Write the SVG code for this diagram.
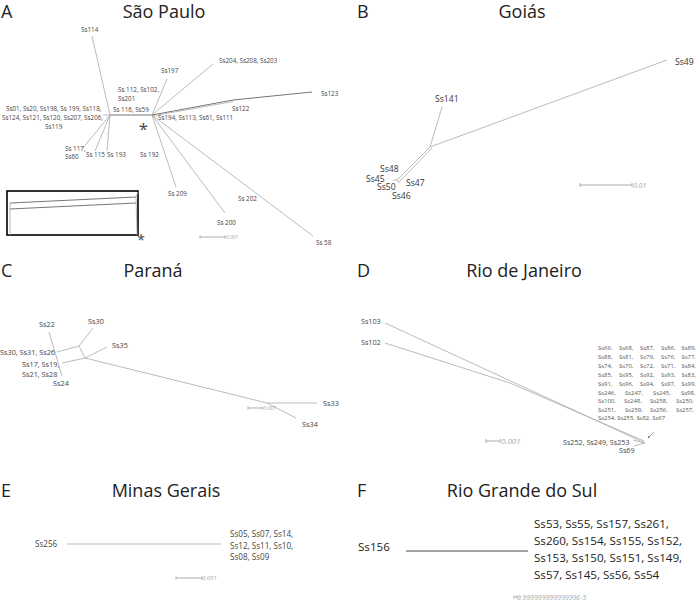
<svg xmlns="http://www.w3.org/2000/svg" width="696" height="604" viewBox="0 0 696 604">
<style>
text{font-family:"Open Sans","Liberation Sans",sans-serif;fill:#444}
.ti{font-size:18px;fill:#222}
.a{font-size:6.3px}
.b{font-size:8.6px;fill:#333}
.c{font-size:7.3px}
.d{font-size:5.9px;fill:#555}
.d2{font-size:7.2px}
.e{font-size:8.1px}
.f{font-size:11.6px;fill:#222}
.sc{font-style:italic;fill:#aaa}
.ln{stroke:#aaa;stroke-width:0.8;fill:none}
.dk{stroke:#666;stroke-width:0.9;fill:none}
.bar{stroke:#999;stroke-width:0.8;fill:none}
</style>
<defs>
<marker id="ah" viewBox="0 0 6 6" refX="5" refY="3" markerWidth="4" markerHeight="4" orient="auto"><path d="M0,0 L6,3 L0,6 z" fill="#777"/></marker>
</defs>
<rect width="696" height="604" fill="#fff"/>

<!-- Titles -->
<g id="titles">
<text class="ti" x="1" y="18">A</text>
<text class="ti" x="164" y="18" text-anchor="middle">São Paulo</text>
<text class="ti" x="357" y="18">B</text>
<text class="ti" x="522" y="18" text-anchor="middle">Goiás</text>
<text class="ti" x="1" y="277">C</text>
<text class="ti" x="153" y="277" text-anchor="middle">Paraná</text>
<text class="ti" x="357" y="277">D</text>
<text class="ti" x="524" y="277" text-anchor="middle">Rio de Janeiro</text>
<text class="ti" x="1" y="497">E</text>
<text class="ti" x="166" y="497" text-anchor="middle">Minas Gerais</text>
<text class="ti" x="357" y="497">F</text>
<text class="ti" x="522" y="497" text-anchor="middle">Rio Grande do Sul</text>
</g>

<!-- Connectors -->
<g id="connectors">
<!-- A -->
<path class="ln" d="M92,36 L110,115"/>
<path class="dk" d="M110,115 L152,115"/>
<path class="ln" d="M110,115 L83,148 M110,115 L95,151 M110,115 L107,151 M110,115 L103,115"/>
<path class="ln" d="M152,115 L167,79 M152,115 L213,64"/>
<path class="dk" d="M152,115 L233,100 L312,92"/>
<path class="ln" d="M152,116 L233,101.5"/>
<path class="ln" d="M152,115 L176,187 M152,115 L225,213 M152,115 L313,236"/>
<rect x="7" y="191" width="131" height="44" fill="#fff" stroke="#000" stroke-width="1.6"/>
<path class="dk" d="M10,203 L136,197 M10,209 L136,203"/>
<path class="ln" d="M10,203 L10,235 M136,197 L138,192 M136,197 L137,235"/>
<!-- B -->
<path class="ln" d="M667,60 L430,147 L442,107"/>
<path class="ln" d="M430,147 L397,180 M432,148 L399,182"/>
<path class="ln" d="M397,180 L393,180 M397,180 L399,183"/>
<!-- C -->
<path class="ln" d="M49,332 L62,376"/>
<path class="ln" d="M57,352 L79,346 L85,358 L62,363"/>
<path class="ln" d="M79,346 L93,328 M85,358 L107,347"/>
<path class="ln" d="M85,358 L267,403 L317,403 M267,403 L296,418"/>
<!-- D -->
<path class="ln" d="M385,323 L645,443"/>
<path class="ln" d="M385,343 L510,383 L644,441"/>
<path class="ln" d="M633,440 L645,443 L634,446"/>
<path stroke="#777" stroke-width="0.7" fill="none" d="M654,432 L648,438" marker-end="url(#ah)"/>
<!-- E -->
<path class="ln" d="M67,544 L221,544"/>
<!-- F -->
<path stroke="#444" stroke-width="1" d="M406,551 L528,551"/>
</g>

<!-- Scale bars -->
<g id="scales">
<path class="bar" d="M200,237 L225,237 M200,235.5 V238.5 M225,235.5 V238.5"/>
<text class="sc" x="226" y="239" font-size="5">0.001</text>
<path class="bar" d="M580,185 L632,185 M580,183 V187 M632,183 V187"/>
<text class="sc" x="633" y="188" font-size="7">0.01</text>
<path class="bar" d="M248,408 L262,408 M248,406.5 V409.5 M262,406.5 V409.5"/>
<text class="sc" x="263" y="410" font-size="5.5">0.001</text>
<path class="bar" d="M486,441 L500,441 M486,439 V443 M500,439 V443"/>
<text class="sc" x="501" y="444" font-size="8">0.001</text>
<path class="bar" d="M176,578 L202,578 M176,576.5 V579.5 M202,576.5 V579.5"/>
<text class="sc" x="202" y="580" font-size="6">0.001</text>
<path class="bar" d="M514,597 L517,597 M514,595.5 V598.5 M517,595.5 V598.5"/>
<text class="sc" x="517" y="599.5" font-size="7">9.99999999999999E-5</text>
</g>

<!-- Panel A nodes -->
<g id="A-Ss114"><text class="a" x="81" y="32">Ss114</text></g>
<g id="A-Ss197"><text class="a" x="161" y="73">Ss197</text></g>
<g id="A-Ss204"><text class="a" x="219" y="63">Ss204, Ss208, Ss203</text></g>
<g id="A-Ss112"><text class="a" x="118" y="92">Ss 112, Ss102,</text><text class="a" x="118" y="101">Ss201</text></g>
<g id="A-Ss116"><text class="a" x="113" y="112">Ss 116, Ss59</text></g>
<g id="A-Ss01"><text class="a" x="6" y="111">Ss01, Ss20, Ss198, Ss 199, Ss118,</text><text class="a" x="2" y="120">Ss124, Ss121, Ss120, Ss207, Ss206,</text><text class="a" x="45" y="129">Ss119</text></g>
<g id="A-Ss194"><text class="a" x="158" y="120">Ss194, Ss113, Ss61, Ss111</text></g>
<g id="A-Ss122"><text class="a" x="232" y="111">Ss122</text></g>
<g id="A-Ss123"><text class="a" x="321" y="95.5" font-size="7.2">Ss123</text></g>
<g id="A-Ss117"><text class="a" x="65" y="151">Ss 117,</text><text class="a" x="65" y="159">Ss60</text></g>
<g id="A-Ss115"><text class="a" x="86" y="157">Ss 115</text></g>
<g id="A-Ss193"><text class="a" x="107" y="157">Ss 193</text></g>
<g id="A-Ss192"><text class="a" x="140" y="157">Ss 192</text></g>
<g id="A-Ss209"><text class="a" x="168" y="196">Ss 209</text></g>
<g id="A-Ss202"><text class="a" x="238" y="201">Ss 202</text></g>
<g id="A-Ss200"><text class="a" x="217" y="225">Ss 200</text></g>
<g id="A-Ss58"><text class="a" x="316" y="245">Ss 58</text></g>
<g id="A-star"><text x="143.5" y="135" font-size="17" text-anchor="middle" fill="#222">*</text></g>
<g id="A-star2"><text x="141" y="245" font-size="14" text-anchor="middle" fill="#222">*</text></g>

<!-- Panel B nodes -->
<g id="B-Ss49"><text class="b" x="675" y="65">Ss49</text></g>
<g id="B-Ss141"><text class="b" x="435" y="102">Ss141</text></g>
<g id="B-Ss48"><text class="b" x="380" y="172">Ss48</text></g>
<g id="B-Ss45"><text class="b" x="366" y="181.5">Ss45</text></g>
<g id="B-Ss50"><text class="b" x="377" y="190">Ss50</text></g>
<g id="B-Ss46"><text class="b" x="392" y="198.5">Ss46</text></g>
<g id="B-Ss47"><text class="b" x="406" y="186">Ss47</text></g>

<!-- Panel C nodes -->
<g id="C-Ss22"><text class="c" x="39" y="326.5">Ss22</text></g>
<g id="C-Ss30"><text class="c" x="88" y="323.5">Ss30</text></g>
<g id="C-Ss35"><text class="c" x="112" y="347.5">Ss35</text></g>
<g id="C-Ss30b"><text class="c" x="0" y="354.5">Ss30, Ss31, Ss26</text></g>
<g id="C-Ss17"><text class="c" x="22" y="366.5">Ss17, Ss19,</text><text class="c" x="22" y="376.5">Ss21, Ss28</text></g>
<g id="C-Ss24"><text class="c" x="53" y="385.5">Ss24</text></g>
<g id="C-Ss33"><text class="c" x="323" y="405.5">Ss33</text></g>
<g id="C-Ss34"><text class="c" x="302" y="426.5">Ss34</text></g>

<!-- Panel D nodes -->
<g id="D-Ss103"><text class="d2" x="361" y="323.5">Ss103</text></g>
<g id="D-Ss102"><text class="d2" x="361" y="344.5">Ss102</text></g>
<g id="D-cluster">
<text class="d" y="350"><tspan x="598">Ss66,</tspan><tspan x="619">Ss68,</tspan><tspan x="640">Ss87,</tspan><tspan x="661">Ss86,</tspan><tspan x="681.5">Ss89,</tspan></text>
<text class="d" y="359"><tspan x="598">Ss88,</tspan><tspan x="619">Ss81,</tspan><tspan x="640">Ss79,</tspan><tspan x="661">Ss76,</tspan><tspan x="681.5">Ss77,</tspan></text>
<text class="d" y="368"><tspan x="598">Ss74,</tspan><tspan x="619">Ss70,</tspan><tspan x="640">Ss72,</tspan><tspan x="661">Ss71,</tspan><tspan x="681.5">Ss84,</tspan></text>
<text class="d" y="377"><tspan x="598">Ss85,</tspan><tspan x="619">Ss95,</tspan><tspan x="640">Ss92,</tspan><tspan x="661">Ss93,</tspan><tspan x="681.5">Ss83,</tspan></text>
<text class="d" y="385.5"><tspan x="598">Ss91,</tspan><tspan x="619">Ss96,</tspan><tspan x="640">Ss94,</tspan><tspan x="661">Ss97,</tspan><tspan x="681.5">Ss99,</tspan></text>
<text class="d" y="394.5"><tspan x="598">Ss246,</tspan><tspan x="625">Ss247,</tspan><tspan x="653">Ss245,</tspan><tspan x="681">Ss98,</tspan></text>
<text class="d" y="403"><tspan x="598">Ss100,</tspan><tspan x="624">Ss248,</tspan><tspan x="650">Ss258,</tspan><tspan x="676">Ss250,</tspan></text>
<text class="d" y="411.5"><tspan x="598">Ss251,</tspan><tspan x="625">Ss259,</tspan><tspan x="650">Ss256,</tspan><tspan x="676">Ss257,</tspan></text>
<text class="d" x="598" y="420">Ss254, Ss255, Ss82, Ss67</text>
</g>
<g id="D-Ss252"><text class="d2" x="563" y="444.5">Ss252, Ss249, Ss253</text></g>
<g id="D-Ss69"><text class="d2" x="619" y="453">Ss69</text></g>

<!-- Panel E nodes -->
<g id="E-Ss256"><text class="e" x="35" y="547">Ss256</text></g>
<g id="E-Ss05"><text class="e" x="230" y="537">Ss05, Ss07, Ss14,</text><text class="e" x="230" y="549">Ss12, Ss11, Ss10,</text><text class="e" x="230" y="560">Ss08, Ss09</text></g>

<!-- Panel F nodes -->
<g id="F-Ss156"><text class="f" x="358" y="551">Ss156</text></g>
<g id="F-Ss53"><text class="f" x="534" y="528">Ss53, Ss55, Ss157, Ss261,</text><text class="f" x="534" y="545">Ss260, Ss154, Ss155, Ss152,</text><text class="f" x="534" y="562">Ss153, Ss150, Ss151, Ss149,</text><text class="f" x="534" y="579">Ss57, Ss145, Ss56, Ss54</text></g>
</svg>
